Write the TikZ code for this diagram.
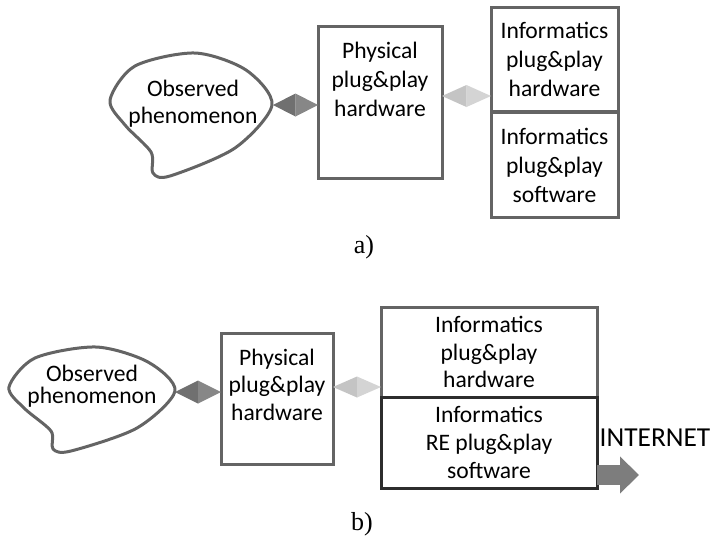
\documentclass[tikz,border=0pt]{standalone}
\usepackage{fontspec}
\setmainfont{Carlito}
\newfontfamily\capfont{Liberation Serif}
\usepackage{tikz}
\usetikzlibrary{arrows.meta, positioning, calc}
\usepackage{xcolor}
\definecolor{framegray}{RGB}{100,100,100}
\definecolor{framedark}{RGB}{45,45,45}
\definecolor{dkA}{RGB}{112,112,112}
\definecolor{dkB}{RGB}{135,135,135}
\definecolor{ltA}{RGB}{196,196,196}
\definecolor{ltB}{RGB}{212,212,212}
\definecolor{netgray}{RGB}{125,125,125}

\tikzset{
  pbox/.style={draw=framegray, line width=1.5pt, fill=white, inner sep=0pt, outer sep=0pt},
  txt/.style={align=center, font=\fontsize{11.8}{14.5}\selectfont},
  blob/.style={draw=framegray, line width=1.5pt, line join=round},
  netarrow/.style={netgray, line width=10pt, -{Triangle[length=9.5pt, width=18pt]}},
  capt/.style={font=\capfont\fontsize{13}{15}\selectfont},
}

\begin{document}
\begin{tikzpicture}[x=5pt, y=-5pt]
  \useasboundingbox (0,0) rectangle (71.4,53.7);
  % a) Observed phenomenon
  \draw[blob] plot[smooth cycle, tension=0.5] coordinates {(11.0,10.0) (13.5,6.6) (19.5,5.3) (24.6,7.0) (27.2,10.5) (23.5,14.8) (17.0,17.6) (15.3,17.3) (15.1,15.2) (12.5,12.5)};
  \node[txt, font=\fontsize{11.8}{13.5}\selectfont] (obs1) at (19.3,10.4) {Observed\\phenomenon};
  \coordinate (tip1) at (27.3,10.5);
  % a) Boxes
  \node[pbox, minimum width=62pt, minimum height=76pt] (phys1) at (38.0,10.2) {};
  \node[txt, below=4.5pt of phys1.north] (phys1t) {Physical\\plug\&play\\hardware};
  \node[pbox, txt, minimum width=63.5pt, minimum height=52pt] (hw1) at (55.45,5.9) {Informatics\\plug\&play\\hardware};
  \node[pbox, txt, minimum width=63.5pt, minimum height=52.5pt, below=0.8pt of hw1] (sw1) {Informatics\\plug\&play\\software};
  % a) Diamonds
  \coordinate (d1) at ($(tip1)!0.5!(phys1.west |- tip1)$);
  \fill[dkA] (tip1) -- ($(d1)+(0,-1.15)$) -- ($(d1)+(0,1.15)$) -- cycle;
  \fill[dkB] (phys1.west |- tip1) -- ($(d1)+(0,-1.15)$) -- ($(d1)+(0,1.15)$) -- cycle;
  \coordinate (l1) at ($(phys1.east)+(0,-0.6)$);
  \coordinate (m1) at ($(l1)!0.5!(hw1.west |- l1)$);
  \fill[ltA] (l1) -- ($(m1)+(0,-1.1)$) -- ($(m1)+(0,1.1)$) -- cycle;
  \fill[ltB] (hw1.west |- l1) -- ($(m1)+(0,-1.1)$) -- ($(m1)+(0,1.1)$) -- cycle;
  \node[capt] (capa) at (36.4,24.7) {a)};

  % b) Observed phenomenon
  \draw[blob] plot[smooth cycle, tension=0.5] coordinates {(0.9,38.7) (3.5,35.8) (9.6,34.7) (14.8,36.2) (17.5,39.1) (13.7,42.8) (7.1,45.1) (5.3,44.9) (5.1,43.1) (2.4,40.8)};
  \node[txt, font=\fontsize{11.8}{11}\selectfont] (obs2) at (9.2,38.6) {Observed\\phenomenon};
  \coordinate (tip2) at (17.5,39.2);
  % b) Boxes
  \node[pbox, minimum width=56pt, minimum height=65.5pt] (phys2) at (27.7,39.85) {};
  \node[txt, font=\fontsize{11.8}{13.75}\selectfont, below=4.5pt of phys2.north] (phys2t) {Physical\\plug\&play\\hardware};
  \node[pbox, txt, font=\fontsize{11.8}{13.9}\selectfont, minimum width=108pt, minimum height=45pt] (hw2) at (48.9,35.2) {Informatics\\plug\&play\\hardware};
  \node[pbox, txt, font=\fontsize{11.8}{13.9}\selectfont, draw=framedark, minimum width=108pt, minimum height=45.5pt, below=0pt of hw2] (sw2) {Informatics\\RE plug\&play\\software};
  % b) Diamonds
  \coordinate (d2) at ($(tip2)!0.5!(phys2.west |- tip2)$);
  \fill[dkA] (tip2) -- ($(d2)+(0,-1.15)$) -- ($(d2)+(0,1.15)$) -- cycle;
  \fill[dkB] (phys2.west |- tip2) -- ($(d2)+(0,-1.15)$) -- ($(d2)+(0,1.15)$) -- cycle;
  \coordinate (l2) at ($(phys2.east)+(0,-1.15)$);
  \coordinate (m2) at ($(l2)!0.5!(hw2.west |- l2)$);
  \fill[ltA] (l2) -- ($(m2)+(0,-1.05)$) -- ($(m2)+(0,1.05)$) -- cycle;
  \fill[ltB] (hw2.west |- l2) -- ($(m2)+(0,-1.05)$) -- ($(m2)+(0,1.05)$) -- cycle;
  % Internet
  \node[font=\fontsize{13.7}{16}\selectfont] (net) at (65.5,43.8) {INTERNET};
  \coordinate (nettip) at (63.9,47.5);
  \draw[netarrow] (sw2.east |- nettip) -- (nettip);
  \node[capt] (capb) at (36.2,52.4) {b)};
\end{tikzpicture}
\end{document}
